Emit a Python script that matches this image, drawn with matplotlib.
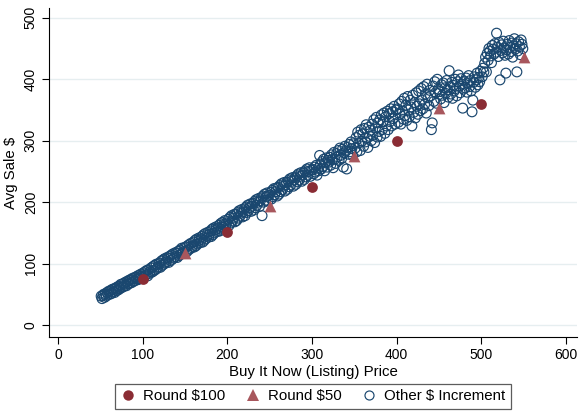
import matplotlib
matplotlib.use("Agg")
import matplotlib.pyplot as plt
from matplotlib.lines import Line2D

plt.rcParams["font.family"] = ["Liberation Sans", "DejaVu Sans"]

# Round-number listing prices and their average sale
round100_price = [100, 200, 300, 400, 500]
round100_sale = [75, 151, 225, 300, 360]
round50_price = [150, 250, 350, 450, 550]
round50_sale = [117, 194, 275, 353, 436]

# Every other dollar listing price, 51..549
other_price = [p for p in range(51, 550) if p % 50 != 0]

sale_051 = [47, 43, 48, 50, 45, 51, 47, 53, 50,
            55, 50, 56, 51, 58, 54, 59, 53, 60, 56,
            62, 57, 63, 59, 66, 61, 67, 62, 68, 64,
            70, 64, 71, 67, 73, 68, 74, 69, 76, 71,
            77, 72, 78, 75, 80, 74, 81, 76, 83, 79]
sale_101 = [85, 79, 87, 82, 89, 80, 90, 84, 87,
            93, 86, 95, 88, 97, 90, 99, 92, 94, 100,
            101, 94, 104, 97, 106, 99, 108, 101, 103, 110,
            109, 102, 112, 105, 114, 107, 116, 109, 111, 118,
            117, 110, 120, 113, 122, 115, 125, 117, 119, 126]
sale_151 = [127, 119, 129, 122, 131, 124, 133, 126, 128,
            135, 127, 138, 129, 140, 132, 137, 142, 134, 139,
            144, 135, 147, 138, 149, 141, 146, 151, 143, 148,
            153, 144, 156, 147, 158, 150, 155, 160, 152, 157,
            162, 153, 165, 156, 167, 159, 164, 170, 161, 166]
sale_201 = [172, 162, 175, 166, 178, 169, 174, 180, 168,
            180, 170, 183, 174, 186, 177, 182, 188, 176, 184,
            189, 178, 192, 183, 195, 186, 191, 197, 185, 193,
            198, 187, 201, 191, 204, 195, 200, 206, 193, 202,
            207, 178, 210, 200, 213, 203, 209, 215, 202, 211]
sale_251 = [216, 205, 219, 209, 222, 212, 217, 223, 210,
            224, 213, 227, 217, 230, 220, 226, 232, 218, 228,
            232, 221, 235, 225, 238, 228, 234, 240, 226, 236,
            240, 229, 243, 233, 246, 236, 242, 248, 234, 244,
            248, 237, 251, 241, 254, 244, 250, 256, 242, 252]
sale_301 = [253, 246, 257, 249, 260, 244, 255, 251, 276,
            262, 254, 266, 258, 270, 251, 264, 272, 257, 268,
            265, 273, 260, 277, 269, 256, 281, 270, 263, 279,
            274, 284, 268, 288, 276, 271, 286, 257, 280, 291,
            283, 254, 289, 278, 294, 282, 298, 287, 276, 295]
sale_351 = [288, 305, 282, 314, 296, 309, 284, 318, 299,
            311, 291, 320, 298, 326, 304, 289, 322, 307, 317,
            300, 327, 309, 334, 297, 321, 338, 306, 329, 315,
            334, 307, 342, 318, 331, 345, 312, 339, 324, 348,
            318, 344, 331, 352, 324, 347, 336, 356, 327, 350]
sale_401 = [352, 330, 360, 343, 327, 364, 348, 335, 369,
            341, 358, 333, 372, 350, 339, 366, 355, 324, 374,
            346, 362, 337, 378, 356, 343, 381, 360, 349, 385,
            366, 352, 388, 359, 376, 345, 392, 370, 357, 382,
            373, 318, 329, 389, 364, 396, 378, 361, 400, 384]
sale_451 = [380, 368, 391, 374, 394, 362, 386, 377, 398,
            383, 371, 414, 388, 376, 395, 369, 390, 381, 400,
            385, 373, 396, 407, 389, 378, 401, 392, 353, 384,
            397, 386, 402, 379, 393, 406, 388, 398, 381, 347,
            366, 395, 404, 387, 399, 410, 391, 403, 396, 413]
sale_501 = [404, 418, 412, 426, 436, 412, 442, 431, 450,
            446, 438, 427, 455, 449, 441, 458, 444, 475, 452,
            437, 460, 399, 447, 456, 443, 462, 451, 439, 410,
            448, 457, 441, 463, 452, 445, 459, 436, 454, 466,
            449, 458, 412, 446, 461, 453, 440, 464, 457, 450]

other_sale = (sale_051 + sale_101 + sale_151 + sale_201 + sale_251
              + sale_301 + sale_351 + sale_401 + sale_451 + sale_501)

x_ticks = [0, 100, 200, 300, 400, 500, 600]
y_ticks = [0, 100, 200, 300, 400, 500]

navy = "#1a476f"
maroon = "#8a2c34"
rose = "#a8575d"

fig = plt.figure(figsize=(5.81, 4.11), dpi=100)
ax = fig.add_axes([49 / 581, 1 - 337 / 411, 528 / 581, 329 / 411])

ax.scatter(other_price, other_sale, s=50, facecolors="none",
           edgecolors=navy, linewidths=0.85, zorder=2)
ax.scatter(round100_price, round100_sale, s=60, color=maroon,
           linewidths=0, zorder=3)
ax.scatter(round50_price, round50_sale, s=72, marker="^", color=rose,
           linewidths=0, zorder=3)

ax.set_xlim(-10.6, 613)
ax.set_ylim(-19.5, 516)
ax.set_xticks(x_ticks)
ax.set_yticks(y_ticks)
ax.tick_params(axis="both", direction="out", length=5, width=0.8,
               labelsize=10, color="black", pad=3)
for lbl in ax.get_yticklabels():
    lbl.set_rotation(90)
    lbl.set_va("center")

for yv in y_ticks:
    ax.axhline(yv, color="#e6eef0", lw=1.0, zorder=0)

for side in ("top", "right"):
    ax.spines[side].set_visible(False)
for side in ("left", "bottom"):
    ax.spines[side].set_linewidth(0.8)
    ax.spines[side].set_color("black")

ax.set_xlabel("Buy It Now (Listing) Price", fontsize=10.8, labelpad=2)
ax.set_ylabel("Avg Sale $", fontsize=10.8, labelpad=4)

handles = [
    Line2D([], [], ls="none", marker="o", markersize=7.5, color=maroon,
           markeredgewidth=0),
    Line2D([], [], ls="none", marker="^", markersize=8, color=rose,
           markeredgewidth=0),
    Line2D([], [], ls="none", marker="o", markersize=6.5,
           markerfacecolor="none", markeredgecolor=navy,
           markeredgewidth=0.85),
]
labels = ["Round $100", "Round $50", "Other $ Increment"]
leg = fig.legend(handles, labels, loc="upper center",
                 bbox_to_anchor=(313 / 581, 1 - 384 / 411),
                 bbox_transform=fig.transFigure, ncol=3, frameon=True,
                 fancybox=False, edgecolor="#333333", fontsize=10.8,
                 handlelength=1.0, handletextpad=0.5, columnspacing=1.35,
                 borderpad=0.35, borderaxespad=0)
leg.get_frame().set_linewidth(0.9)

fig.savefig("out.png", dpi=100)
